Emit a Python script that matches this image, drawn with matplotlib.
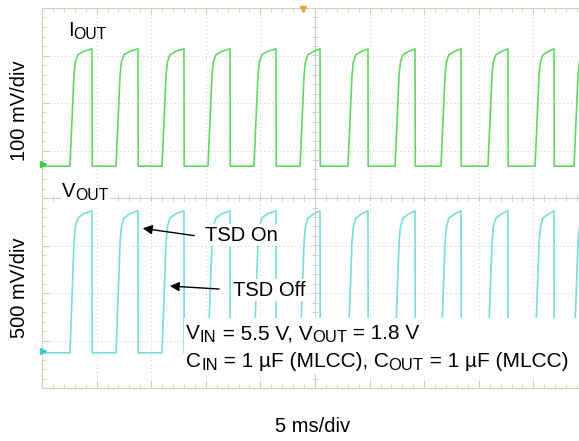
import numpy as np
import matplotlib
matplotlib.use("Agg")
import matplotlib.pyplot as plt

plt.rcParams['font.family'] = ['Liberation Sans', 'DejaVu Sans']

# ---- data (time in ms, 5 ms/div; levels in divisions, 0..8) ----
rise_ms = [2.56, 6.78, 10.99, 15.20, 19.41, 23.63, 28.02, 32.33, 36.54, 40.84, 45.15, 48.72]
fall_ms = [4.58, 8.79, 13.00, 17.22, 21.43, 25.46, 29.85, 34.16, 38.37, 42.67, 46.89]

iout_low, iout_high = 4.67, 7.14
vout_low, vout_high = 0.74, 3.73

# pulse shape: time after rising edge (ms) vs fraction of swing
shape_dt_ms = [0.0, 0.37, 0.50, 0.73, 1.28]
shape_frac = [0.0, 0.78, 0.89, 0.95, 0.98]

trigger_ms = 23.9


def build_trace(low, high):
    t = [0.0]
    v = [low]
    for i, r in enumerate(rise_ms):
        t.append(r)
        v.append(low)
        f = fall_ms[i] if i < len(fall_ms) else None
        for dt, fr in zip(shape_dt_ms[1:], shape_frac[1:]):
            if f is not None and r + dt >= f:
                break
            t.append(r + dt)
            v.append(low + fr * (high - low))
        if f is None:
            break
        t.append(f)
        v.append(high)
        t.append(f + 0.02)
        v.append(low)
    return np.array(t), np.array(v)


def rich_text(ax, x, y, pieces, fontsize, sub_scale=0.78, drop=2.4, bbox=None, zorder=5):
    """pieces: list of (string, is_subscript); drawn left to right on one baseline."""
    prev = None
    for s, is_sub in pieces:
        fs = fontsize * sub_scale if is_sub else fontsize
        dy = -drop if is_sub else 0
        kw = dict(fontsize=fs, va='baseline', ha='left', zorder=zorder)
        if bbox is not None:
            kw['bbox'] = bbox
        if prev is None:
            prev = ax.annotate(s, xy=(x, y), xycoords='data', xytext=(0, dy),
                               textcoords='offset points', **kw)
        else:
            prev = ax.annotate(s, xy=(1, y), xycoords=(prev, 'data'), xytext=(0, dy),
                               textcoords='offset points', **kw)
    return prev


W, H = 579, 441
fig = plt.figure(figsize=(W / 100, H / 100), dpi=100)
L, R, T, B = 42, 588, 8, 388
ax = fig.add_axes([L / W, (H - B) / H, (R - L) / W, (B - T) / H])
ax.set_xlim(0, 50)
ax.set_ylim(0, 8)

frame_col = '#d6cfbf'
grid_col = '#c9c9c9'
for s in ax.spines.values():
    s.set_color(frame_col)
    s.set_linewidth(0.8)

ax.set_xticks(np.arange(0, 51, 5))
ax.set_xticks(np.arange(0, 51, 1), minor=True)
ax.set_yticks(np.arange(0, 9, 1))
ax.set_yticks(np.arange(0, 8.01, 0.2), minor=True)
ax.tick_params(which='both', direction='in', top=True, bottom=True, left=True, right=False,
               labelbottom=False, labelleft=False, color=frame_col)
ax.tick_params(which='major', length=5, width=0.8)
ax.tick_params(which='minor', length=3, width=0.6)

# dotted grid
for x in np.arange(5, 50, 5):
    if x != 25:
        ax.axvline(x, color=grid_col, lw=0.7, ls=(0, (1, 3)), zorder=1)
for y in np.arange(1, 8, 1):
    if y != 4:
        ax.axhline(y, color=grid_col, lw=0.7, ls=(0, (1, 3)), zorder=1)

# centre cross with small ticks
ax.axvline(25, color='#cccccc', lw=0.8, zorder=1)
ax.axhline(4, color='#cccccc', lw=0.8, zorder=1)
yt = np.arange(0.2, 8, 0.2)
ax.hlines(yt, 25 - 0.25, 25 + 0.25, color='#cccccc', lw=0.7, zorder=1)
xt = np.arange(1, 50, 1)
ax.vlines(xt, 4 - 0.06, 4 + 0.06, color='#cccccc', lw=0.7, zorder=1)

green = '#62d862'
cyan = '#7adcdc'
t1, v1 = build_trace(iout_low, iout_high)
t2, v2 = build_trace(vout_low, vout_high)
ax.plot(t1, v1, color=green, lw=1.2, zorder=3)
ax.plot(t2, v2, color=cyan, lw=1.2, zorder=3)

# channel and trigger markers
ax.plot([0.1], [iout_low + 0.05], marker='>', color='#3ccc3c', ms=4, clip_on=False, zorder=4)
ax.plot([0.1], [vout_low + 0.03], marker='>', color='#40c8d0', ms=4, clip_on=False, zorder=4)
ax.plot([trigger_ms], [7.97], marker='v', color='#f0a040', ms=4, clip_on=False, zorder=4)

fs = 14.5
white = dict(facecolor='white', edgecolor='none', pad=1)
rich_text(ax, 2.38, 7.41, [('I', False), ('OUT', True)], fs)
rich_text(ax, 1.83, 4.02, [('V', False), ('OUT', True)], fs, bbox=white)

ax.text(14.93, 3.22, 'TSD On', fontsize=fs, va='center', ha='left', zorder=5, bbox=white)
ax.annotate('', xy=(8.97, 3.37), xytext=(14.19, 3.2), zorder=5,
            arrowprops=dict(arrowstyle='-|>', color='black', lw=1.0, mutation_scale=14))
ax.text(17.49, 2.06, 'TSD Off', fontsize=fs, va='center', ha='left', zorder=5, bbox=white)
ax.annotate('', xy=(11.45, 2.15), xytext=(16.48, 2.08), zorder=5,
            arrowprops=dict(arrowstyle='-|>', color='black', lw=1.0, mutation_scale=14))

ax.add_patch(plt.Rectangle((13.0, 0.3), 35.9, 1.17, facecolor='white', edgecolor='none', zorder=4))
fs2 = 15.0
rich_text(ax, 13.19, 1.03, [('V', False), ('IN', True), (' = 5.5 V, V', False), ('OUT', True),
                            (' = 1.8 V', False)], fs2, sub_scale=0.8)
rich_text(ax, 13.19, 0.44, [('C', False), ('IN', True), (' = 1 µF (MLCC), C', False), ('OUT', True),
                            (' = 1 µF (MLCC)', False)], fs2, sub_scale=0.8)

fig.text(20 / W, 1 - 111 / H, '100 mV/div', rotation=90, ha='center', va='center', fontsize=fs)
fig.text(20 / W, 1 - 288 / H, '500 mV/div', rotation=90, ha='center', va='center', fontsize=fs)
fig.text(313 / W, 1 - 427 / H, '5 ms/div', ha='center', va='center', fontsize=fs)

fig.savefig('out.png', dpi=100)
